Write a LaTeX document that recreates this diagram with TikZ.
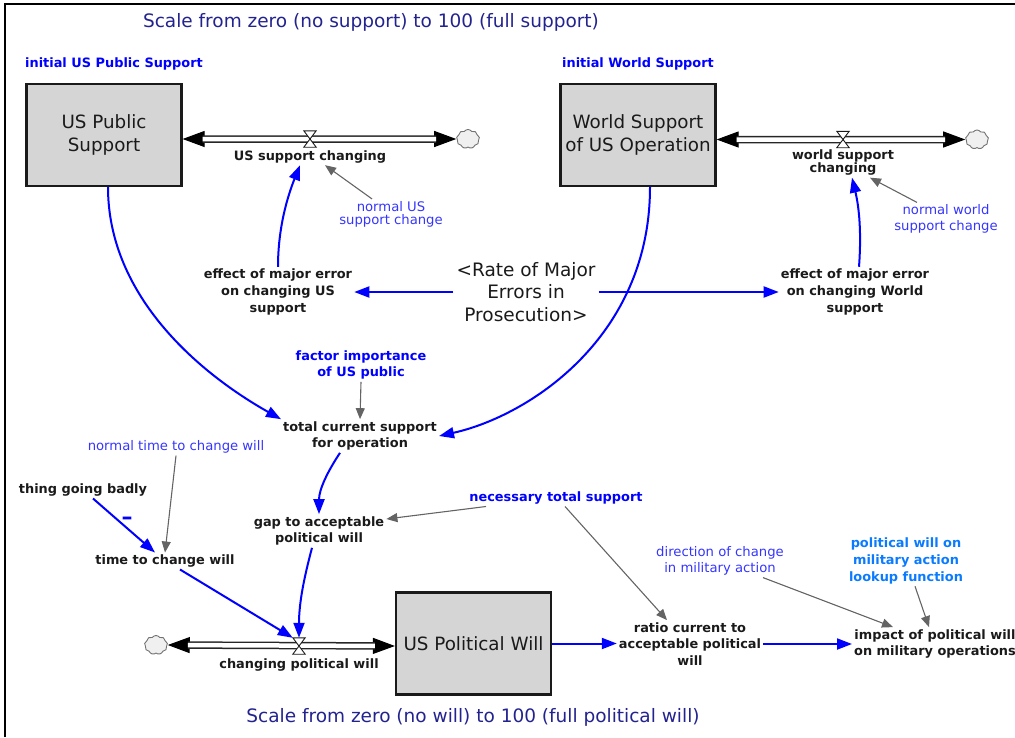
\documentclass[tikz,border=0pt]{standalone}
\usepackage{fontspec}
\setmainfont{DejaVu Sans}
\usepackage{tikz}
\usetikzlibrary{arrows.meta,positioning,shapes.symbols}
\definecolor{ink}{HTML}{1A1A1A}
\definecolor{navy}{HTML}{23238F}
\definecolor{linkblue}{HTML}{0000FF}
\definecolor{softblue}{HTML}{3535FF}
\definecolor{skyblue}{HTML}{0A7BFF}
\definecolor{infogray}{HTML}{646464}
\definecolor{stockfill}{HTML}{D5D5D5}
\tikzset{
  >=Latex,
  stock/.style={draw=ink,line width=2.2pt,fill=stockfill,align=center,minimum width=155pt,minimum height=102pt,inner sep=0pt,font=\fontsize{18.3}{22.5}\selectfont,text=ink},
  var/.style={align=center,inner sep=2pt,font=\fontsize{12.9}{16.8}\selectfont\bfseries,text=ink},
  const/.style={var,text=linkblue},
  lookup/.style={var,text=skyblue},
  parm/.style={align=center,inner sep=2pt,font=\fontsize{13.2}{16}\selectfont,text=softblue},
  shadowvar/.style={align=center,inner sep=3pt,font=\fontsize{18.5}{22.5}\selectfont,text=ink},
  caption/.style={font=\fontsize{18.5}{22}\selectfont,text=navy},
  valve/.style={minimum width=12pt,minimum height=16pt,inner sep=0pt},
  valveline/.style={draw=ink,line width=0.9pt,fill=white,line join=miter},
  sink/.style={cloud,cloud puffs=9,cloud puff arc=110,aspect=1.2,draw=black!55,fill=black!6,line width=0.9pt,minimum width=23pt,minimum height=19pt,inner sep=0pt},
  flowtip/.style={{Triangle[length=22pt,width=16pt]}-{Triangle[length=22pt,width=16pt]},line width=1pt,draw=black},
  pipe/.style={draw=black!85,line width=1.5pt,double=white,double distance=4.5pt,shorten <=20pt,shorten >=20pt},
  link/.style={-{Triangle[length=15pt,width=11pt]},line width=2pt,draw=linkblue},
  info/.style={-{Triangle[length=11pt,width=9pt]},line width=1.1pt,draw=infogray},
  borderline/.style={line width=2.5pt,draw=black}
}
\begin{document}
\begin{tikzpicture}[x=1pt,y=-1pt,node distance=1pt]
  \useasboundingbox (0,0) rectangle (1015,737);
  \draw[borderline] (5,737) -- (5,4) -- (1015,4);

  \node[caption] (topnote) at (371,22) {Scale from zero (no support) to 100 (full support)};
  \node[const] (initUS) at (114,64) {initial US Public Support};
  \node[const] (initW) at (638,64) {initial World Support};
  \node[stock] (usp) at (104,135) {US Public\\Support};
  \node[stock] (wsp) at (638,135) {World Support\\of US Operation};
  \node[valve] (vUS) at (310,139) {};
  \node[valve] (vW) at (843,139.5) {};
  \node[sink] (cloudA) at (468,139) {};
  \node[sink] (cloudB) at (977,139.5) {};
  \node[var,below=of vUS] (chUS) {US support changing};
  \node[var,below=0pt of vW,font=\fontsize{12.9}{13}\selectfont\bfseries] (chW) {world support\\changing};
  \node[parm,font=\fontsize{13.2}{13}\selectfont] (nUS) at (391,214) {normal US\\support change};
  \node[parm] (nW) at (946,219) {normal world\\support change};
  \node[var] (eUS) at (278,292) {effect of major error\\on changing US\\support};
  \node[var] (eW) at (855,292) {effect of major error\\on changing World\\support};
  \node[shadowvar] (rate) at (526,292) {<Rate of Major\\Errors in\\Prosecution>};
  \node[const] (fiUS) at (361,365) {factor importance\\of US public};
  \node[var] (tcs) at (360,436) {total current support\\for operation};
  \node[parm] (ntc) at (176,447) {normal time to change will};
  \node[var] (tgb) at (83,490) {thing going badly};
  \node[var,font=\fontsize{22}{22}\selectfont\bfseries,text=linkblue] (polarity) at (127,521) {–};
  \node[var] (tcw) at (165,561) {time to change will};
  \node[var] (gap) at (319,531) {gap to acceptable\\political will};
  \node[const] (nts) at (556,498) {necessary total support};
  \node[sink] (cloudC) at (156,645) {};
  \node[valve] (vPW) at (299,646) {};
  \node[stock] (upw) at (473.5,643.5) {US Political Will};
  \node[var,below=2pt of vPW] (cpw) {changing political will};
  \node[caption] (botnote) at (473,717) {Scale from zero (no will) to 100 (full political will)};
  \node[var] (ratio) at (690,644) {ratio current to\\acceptable political\\will};
  \node[parm] (dir) at (720,561) {direction of change\\in military action};
  \node[lookup] (lkp) at (906,561) {political will on\\military action\\lookup function};
  \node[var,anchor=west] (impact) at (852,644) {impact of political will\\on military operations};

  \draw[flowtip] (usp.east |- vUS) -- (cloudA.west);
  \draw[pipe] (usp.east |- vUS) -- (cloudA.west);
  \draw[valveline] (vUS.north west) -- (vUS.north east) -- (vUS.south west) -- (vUS.south east) -- cycle;
  \draw[flowtip] (wsp.east |- vW) -- (cloudB.west);
  \draw[pipe] (wsp.east |- vW) -- (cloudB.west);
  \draw[valveline] (vW.north west) -- (vW.north east) -- (vW.south west) -- (vW.south east) -- cycle;
  \draw[flowtip] (cloudC.east) -- (upw.west |- vPW);
  \draw[pipe] (cloudC.east) -- (upw.west |- vPW);
  \draw[valveline] (vPW.north west) -- (vPW.north east) -- (vPW.south west) -- (vPW.south east) -- cycle;

  \draw[link] (eUS.north) .. controls +(0,-40) and +(-12,30) .. ([xshift=-10pt]chUS.south);
  \draw[link] ([xshift=4pt]eW.north) .. controls +(3,-40) and +(6,25) .. ([xshift=9pt]chW.south);
  \draw[link] (rate.west) -- (eUS.east);
  \draw[link] (rate.east) -- (eW.west);
  \draw[link] ([xshift=4pt]usp.south) .. controls +(0,110) and +(-80,-45) .. (tcs.north west);
  \draw[link] ([xshift=12pt]wsp.south) .. controls +(0,150) and +(90,-20) .. (tcs.east);
  \draw[link] ([xshift=-20pt]tcs.south) .. controls +(-12,18) and +(0,-25) .. (gap.north);
  \draw[link] ([xshift=-7pt]gap.south) .. controls +(-8,30) and +(0,-35) .. (vPW.north);
  \draw[link] ([xshift=10pt]tgb.south) -- ([xshift=-10pt]tcw.north);
  \draw[link] ([xshift=15pt]tcw.south) -- (vPW.north west);
  \draw[link] (upw.east) -- (ratio.west |- upw.east);
  \draw[link] (ratio.east) -- (impact.west);

  \draw[info] ([xshift=-19pt]nUS.north) -- ([xshift=15pt]chUS.south);
  \draw[info] ([xshift=-29pt]nW.north) -- ([xshift=27pt]chW.south);
  \draw[info] (fiUS.south) -- (tcs.north);
  \draw[info] (ntc.south) -- (tcw.north);
  \draw[info] ([xshift=-70pt]nts.south) -- ([yshift=12pt]gap.east);
  \draw[info] ([xshift=9pt]nts.south) -- ([xshift=-23pt]ratio.north);
  \draw[info] ([xshift=43pt]dir.south) -- ([xshift=-42pt]impact.north);
  \draw[info] ([xshift=9pt]lkp.south) -- ([xshift=-6pt]impact.north);
\end{tikzpicture}
\end{document}
